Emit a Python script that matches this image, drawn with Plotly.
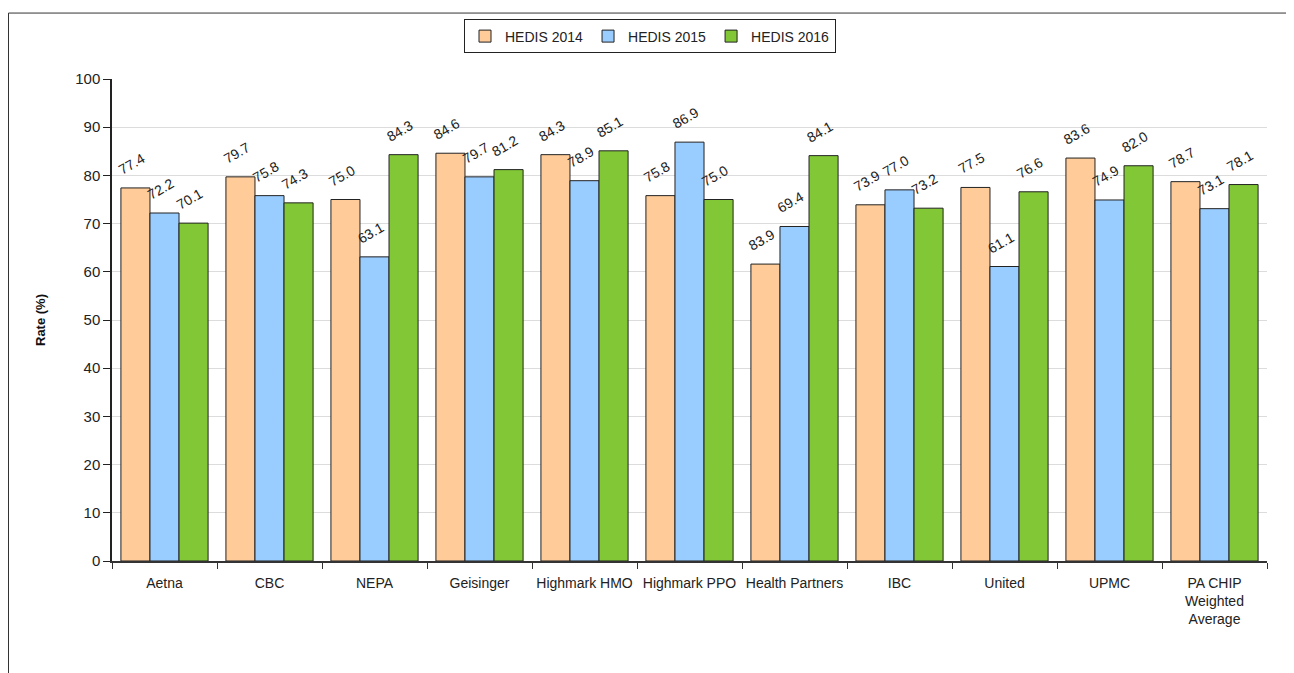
import plotly.graph_objects as go

categories = ["Aetna", "CBC", "NEPA", "Geisinger", "Highmark HMO", "Highmark PPO",
              "Health Partners", "IBC", "United", "UPMC", "PA CHIP<br>Weighted<br>Average"]
series_names = ["HEDIS 2014", "HEDIS 2015", "HEDIS 2016"]
hedis_2014 = [77.4, 79.7, 75.0, 84.6, 84.3, 75.8, 61.6, 73.9, 77.5, 83.6, 78.7]
hedis_2015 = [72.2, 75.8, 63.1, 79.7, 78.9, 86.9, 69.4, 77.0, 61.1, 74.9, 73.1]
hedis_2016 = [70.1, 74.3, 84.3, 81.2, 85.1, 75.0, 84.1, 73.2, 76.6, 82.0, 78.1]
# data labels as printed in the source chart
labels_2014 = ["77.4", "79.7", "75.0", "84.6", "84.3", "75.8", "83.9", "73.9", "77.5", "83.6", "78.7"]
labels_2015 = ["72.2", "75.8", "63.1", "79.7", "78.9", "86.9", "69.4", "77.0", "61.1", "74.9", "73.1"]
labels_2016 = ["70.1", "74.3", "84.3", "81.2", "85.1", "75.0", "84.1", "73.2", "76.6", "82.0", "78.1"]
y_ticks = [0, 10, 20, 30, 40, 50, 60, 70, 80, 90, 100]

colors = ["#FFCC99", "#99CCFF", "#82C836"]
FONT = "Liberation Sans, Arial, sans-serif"

# page body has an 8px margin; work in absolute page pixels
OFF = 8
W, H = 1294 - OFF, 673 - OFF
PL, PR, PT, PB = 112, 1267, 75, 561  # absolute plot-area edges
L, T = PL - OFF, PT - OFF
pw, ph = PR - PL, PB - PT
R, B = W - L - pw, H - T - ph
BARGAP = 0.17

def px(x):
    return (x - PL) / pw

def py(y):
    return (PB - y) / ph

fig = go.Figure()
all_vals = [hedis_2014, hedis_2015, hedis_2016]
all_labels = [labels_2014, labels_2015, labels_2016]
for name, vals, col in zip(series_names, all_vals, colors):
    fig.add_trace(go.Bar(
        name=name, x=categories, y=vals,
        marker=dict(color=col, line=dict(color="#222222", width=1)),
    ))

# data labels: rotated text above each bar (offset within the group by bar width)
group_px = pw / len(categories)
bar_px = group_px * (1 - BARGAP) / 3
annotations = []
for i, (vals, labs) in enumerate(zip(all_vals, all_labels)):
    for cat, v, lab in zip(categories, vals, labs):
        annotations.append(dict(
            x=cat, y=v, xref="x", yref="y", text=lab, showarrow=False,
            xanchor="center", yanchor="middle", textangle=-30,
            xshift=(i - 1) * bar_px - 4, yshift=24,
            font=dict(family=FONT, size=14, color="#222222")))

annotations.append(dict(text="<b>Rate (%)</b>", xref="paper", yref="paper",
                        x=px(40), y=0.5, xanchor="center", yanchor="middle",
                        textangle=-90, showarrow=False,
                        font=dict(family=FONT, size=13, color="#111111")))

fig.update_layout(
    width=W, height=H,
    margin=dict(l=L, r=R, t=T, b=B, pad=0),
    paper_bgcolor="white", plot_bgcolor="white",
    barmode="group", bargap=BARGAP, bargroupgap=0,
    font=dict(family=FONT, size=14, color="#222222"),
    showlegend=True,
    legend=dict(orientation="h", x=px(650), xanchor="center", y=py(15), yanchor="top",
                bordercolor="#222222", borderwidth=1, bgcolor="white",
                font=dict(family=FONT, size=14, color="#222222"),
                itemwidth=30, traceorder="normal"),
    xaxis=dict(showline=True, linecolor="#333333", linewidth=1.5, tickangle=0,
               ticks="outside", ticklen=6, tickcolor="#333333", tickson="boundaries",
               ticklabelstandoff=8,
               tickfont=dict(family=FONT, size=14, color="#222222"), showgrid=False),
    yaxis=dict(range=[0, 100], tickvals=y_ticks, showline=True, linecolor="#222222", linewidth=1.5,
               ticks="outside", ticklen=7, tickcolor="#222222",
               tickfont=dict(family=FONT, size=15, color="#222222"),
               showgrid=True, gridcolor="#DCDCDC", gridwidth=1, zeroline=False),
    shapes=[dict(type="rect", xref="paper", yref="paper",
                 x0=px(8.5), x1=px(1292.5), y0=py(700), y1=py(8.5),
                 line=dict(color="#333333", width=1), fillcolor="rgba(0,0,0,0)", layer="below")],
    annotations=annotations,
)

fig.write_html("out.html")
